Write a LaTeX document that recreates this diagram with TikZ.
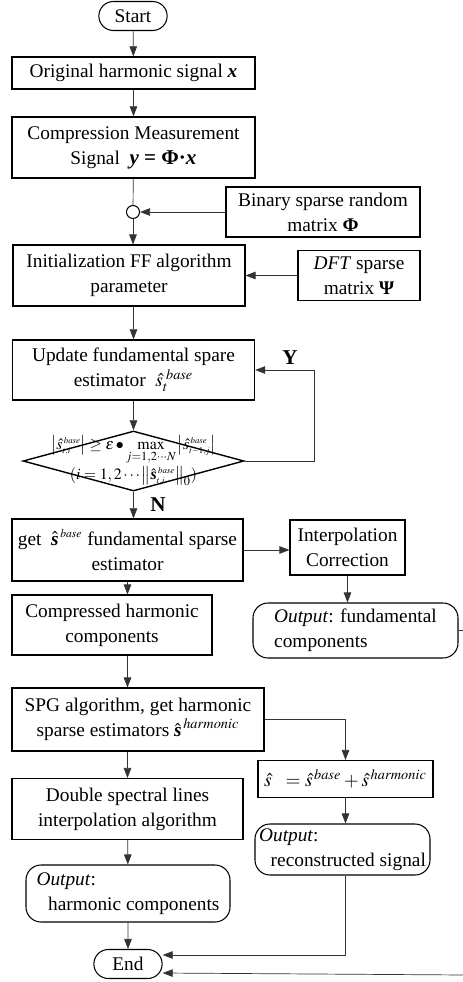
\documentclass[tikz,border=0pt]{standalone}
\usepackage{amsmath}
\usepackage{mathptmx}
\usepackage[no-math]{fontspec}
\setmainfont{Liberation Serif}
\usetikzlibrary{
  arrows.meta,
  shapes.geometric,
  shapes.misc,
  calc
}

\begin{document}
\begin{tikzpicture}[
  x=0.2mm, y=-0.2mm,
  every node/.style={font=\fontsize{11}{14.2}\selectfont},
  box/.style={rectangle, draw, semithick, align=center, inner sep=1pt},
  heavy/.style={box, thick},
  term/.style={rounded rectangle, draw, semithick, minimum width=16mm,
               minimum height=5.8mm},
  outp/.style={box, rounded corners=3mm, align=left},
  decision/.style={diamond, draw, thick, minimum width=44.2mm,
                   minimum height=12mm, inner sep=0pt},
  junc/.style={circle, draw, semithick, minimum size=2.6mm, inner sep=0pt},
  arr/.style={-{Triangle[length=2mm,width=1.5mm]}, black!80},
  line/.style={black!80},
]
\useasboundingbox (0,0) rectangle (463,982);

% main column
\node[term](start) at (133,16) {Start};
\node[heavy, minimum width=48.6mm, minimum height=6.4mm](orig) at (133.5,73)
  {Original harmonic signal {\bfseries\itshape x}};
\node[heavy, minimum width=48.6mm, minimum height=12.2mm](comp) at (133.5,147.5)
  {Compression Measurement\\ Signal\ \ {\large\bfseries\itshape y {\upshape= Φ}{\upshape·}x}};
\node[junc](junc) at (133,212) {};
\node[box, minimum width=46.4mm, minimum height=12.2mm](init) at (129,275.5)
  {Initialization FF algorithm\\ parameter};
\node[heavy, minimum width=48.4mm, minimum height=12mm](update) at (133.5,370)
  {Update fundamental spare\\ estimator\ \ $\hat{s}_{t}^{\,\,base}$};
\node[decision](check) at (133.5,461) {};
\node[align=center, font=\fontsize{9}{13}\selectfont](checktxt) at (133.5,461)
  {$\left|\hat{s}^{\,\scriptscriptstyle base}_{\scriptscriptstyle t,i}\right|
    \geq \varepsilon\bullet
    \max\limits_{j=1,2\cdots N}
    \left|\hat{s}^{\,\scriptscriptstyle base}_{\scriptscriptstyle t-1,j}\right|$\\
   $(i=1,2\cdots\left\|\hat{\text{\bfseries\itshape s}}^{\,\scriptscriptstyle base}_{\scriptscriptstyle t,i}\right\|_{0})$};
\node[heavy, minimum width=46.2mm, minimum height=12.4mm](getbase) at (127.5,550)
  {get\ \ $\hat{\text{\bfseries\itshape s}}^{\,\scriptscriptstyle base}$ fundamental sparse\\ estimator};
\node[box, minimum width=40mm, minimum height=12mm](comph) at (112,625)
  {Compressed harmonic\\ components};
\node[box, minimum width=50.4mm, minimum height=12.6mm](spg) at (138,719.5)
  {SPG algorithm, get harmonic\\ sparse estimators $\hat{\text{\bfseries\itshape s}}^{\,\scriptstyle harmonic}$};
\node[box, minimum width=46.2mm, minimum height=12.2mm](dbl) at (127.5,809)
  {Double spectral lines\\ interpolation algorithm};
\node[outp, minimum width=40.8mm, minimum height=11.4mm](outharm) at (128,893.5)
  {\textit{Output}:\\ \hspace*{0.6em}harmonic components};
\node[term](endn) at (128,964) {End};

% right column
\node[box, minimum width=38.8mm, minimum height=10mm](binary) at (323,212)
  {Binary sparse random\\ matrix \textbf{Φ}};
\node[box, minimum width=24.4mm, minimum height=10mm](dft) at (359,275.5)
  {\textit{DFT} sparse\\ matrix \textbf{Ψ}};
\node[box, minimum width=23mm, minimum height=11mm](interp) at (347.5,547.5)
  {Interpolation\\ Correction};
\node[outp, minimum width=41mm, minimum height=11mm](outfund) at (355.5,630.5)
  {\textit{Output}: fundamental\\ components};
\node[box, minimum width=35mm, minimum height=7.4mm](sum) at (345.5,779)
  {$\hat{s}\ \ = \hat{s}^{\,base} + \hat{s}^{\,harmonic}$};
\node[outp, minimum width=35mm, minimum height=10.2mm](outrec) at (342.5,849.5)
  {\textit{Output}:\\ \hspace*{0.6em}reconstructed signal};

\node[font=\bfseries\fontsize{12}{14}\selectfont](ylab) at (290,358) {Y};
\node[font=\bfseries\fontsize{12}{14}\selectfont](nlab) at (158,505) {N};
\coordinate (rim) at (466,975);

\draw[arr](start)--(orig); \draw[arr](orig)--(comp);
\draw[line](comp)--(junc);
\draw[arr](binary)--(junc);
\draw[arr](junc)--(junc |- init.north);
\draw[arr](dft)--(init);
\draw[arr](init.south -| update)--(update);
\draw[arr](update)--(check);
\draw[arr](check.east)--++(70,0) |- (update.east);
\draw[arr](check.south)--(check.south |- getbase.north);
\draw[arr](getbase.east)--(getbase.east -| interp.west);
\draw[arr](interp)--(interp |- outfund.north);
\draw[arr](getbase)--(getbase |- comph.north);
\draw[arr](comph.south -| getbase)--(spg.north -| getbase);
\draw[arr](spg.east) -| (sum.north);
\draw[arr](spg.south -| dbl)--(dbl);
\draw[arr](sum.south)--(sum.south |- outrec.north);
\draw[arr](dbl)--(outharm);
\draw[arr](outharm)--(endn);
\draw[arr](outrec.south -| sum) |- ([yshift=1.8mm]endn.east);
\draw[arr](outfund.east) -| (rim) -- ([yshift=-1.8mm]endn.east);
\end{tikzpicture}
\end{document}
